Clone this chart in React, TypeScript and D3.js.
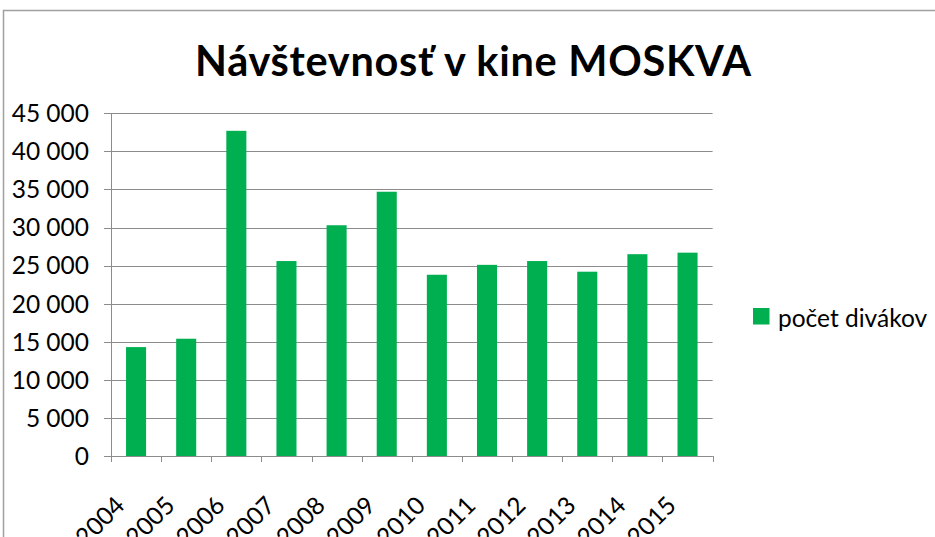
import React from "react";
import * as d3 from "d3";

const years = ["2004","2005","2006","2007","2008","2009","2010","2011","2012","2013","2014","2015"];
const visitors = [14300, 15400, 42700, 25600, 30300, 34700, 23800, 25100, 25600, 24200, 26500, 26700];
const yTicks = [0, 5000, 10000, 15000, 20000, 25000, 30000, 35000, 40000, 45000];
const title = "Návštevnosť v kine MOSKVA";
const seriesName = "počet divákov";

const W = 935, H = 537;
const plot = { left: 111, right: 712.6, top: 113.3, bottom: 456 };
const green = "#00B050";
const gridColor = "#8C8C8C";
const font = "Lato, 'Noto Sans', sans-serif";

const fmt = d3.formatLocale({ decimal: ",", thousands: "\u00a0", grouping: [3], currency: ["", ""] }).format(",");

export default function App() {
  const x = d3.scaleBand<string>().domain(years).range([plot.left, plot.right]).paddingInner(0.6).paddingOuter(0.3);
  const y = d3.scaleLinear().domain([0, 45000]).range([plot.bottom, plot.top]);
  const step = x.step();
  const x0 = plot.left;
  const boundaries = d3.range(years.length + 1).map((i) => x0 + i * step);

  return (
    <svg width={W} height={H} style={{ position: "absolute", left: 0, top: 0, background: "#fff" }} fontFamily={font}>
      <rect x={0} y={0} width={W} height={H} fill="#fff" />
      {/* chart frame */}
      <path d={`M3.5,${H + 5} V10.5 H${W + 5}`} fill="none" stroke="#A0A0A0" strokeWidth={1.5} />
      {/* title */}
      <text x={473} y={76} textAnchor="middle" fontSize={41.5} fontWeight={700} fill="#000" textLength={556} lengthAdjust="spacing">{title}</text>

      {/* gridlines */}
      {yTicks.map((t) => (
        <line key={"g" + t} x1={plot.left - 7} x2={plot.right} y1={Math.round(y(t)) + 0.5} y2={Math.round(y(t)) + 0.5} stroke={gridColor} strokeWidth={1} />
      ))}
      {/* y axis */}
      <line x1={plot.left + 0.5} x2={plot.left + 0.5} y1={y(45000)} y2={plot.bottom + 6} stroke={gridColor} strokeWidth={1} />
      {/* y labels */}
      {yTicks.map((t) => (
        <text key={"yl" + t} x={89} y={y(t)} dy="0.36em" textAnchor="end" fontSize={24.5} fill="#000">{fmt(t)}</text>
      ))}

      {/* bars */}
      {years.map((yr, i) => (
        <rect key={yr} x={x(yr)} y={y(visitors[i])} width={x.bandwidth()} height={plot.bottom - y(visitors[i])} fill={green} />
      ))}

      {/* x axis */}
      <line x1={plot.left} x2={plot.right} y1={Math.round(plot.bottom) + 0.5} y2={Math.round(plot.bottom) + 0.5} stroke={gridColor} strokeWidth={1} />
      {boundaries.map((bx, i) => (
        <line key={"t" + i} x1={Math.round(bx) + 0.5} x2={Math.round(bx) + 0.5} y1={plot.bottom} y2={plot.bottom + 6} stroke={gridColor} strokeWidth={1} />
      ))}
      {years.map((yr) => {
        const cx = (x(yr) as number) + x.bandwidth() / 2;
        const ax = cx - 10, ay = 507;
        return (
          <text key={"xl" + yr} x={ax} y={ay} transform={`rotate(-45 ${ax} ${ay})`} textAnchor="end" fontSize={24.5} fill="#000">{yr}</text>
        );
      })}

      {/* legend */}
      <rect x={753} y={308} width={16.5} height={16.5} fill={green} />
      <text x={778} y={327} fontSize={24.5} fill="#000">{seriesName}</text>
    </svg>
  );
}
